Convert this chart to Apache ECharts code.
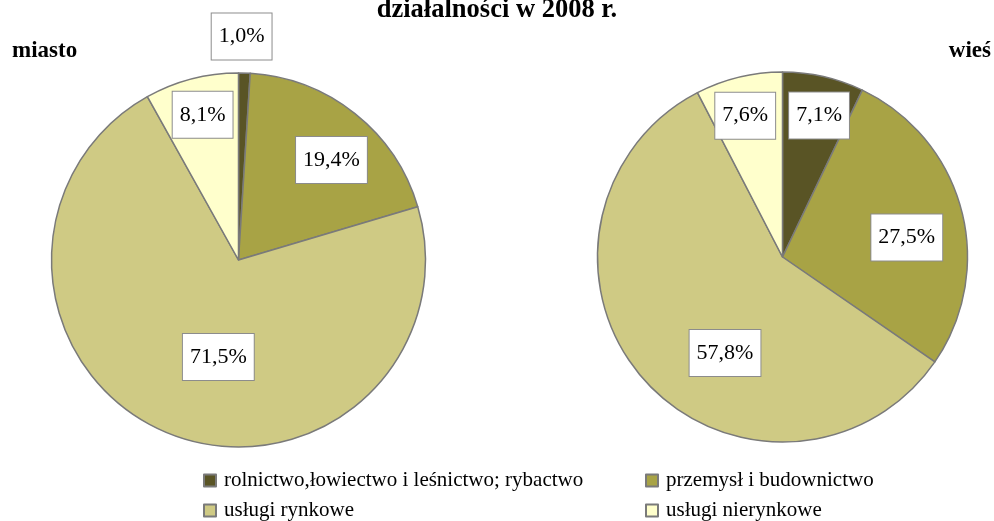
<!DOCTYPE html>
<html>
<head>
<meta charset="utf-8">
<script src="https://cdn.jsdelivr.net/npm/echarts@6/dist/echarts.min.js"></script>
<style>
  html, body { margin: 0; padding: 0; background: #fff; }
  #chart { width: 994px; height: 521px; }
</style>
</head>
<body>
<div id="chart"></div>
<script>
// dane
const categories = [
  'rolnictwo,łowiectwo i leśnictwo; rybactwo',
  'przemysł i budownictwo',
  'usługi rynkowe',
  'usługi nierynkowe'
];
const miastoValues = [1.0, 19.4, 71.5, 8.1];
const wiesValues = [7.1, 27.5, 57.8, 7.6];
const titleText = 'działalności w 2008 r.';
const pieNames = ['miasto', 'wieś'];

const colors = ['#595425', '#a8a345', '#cfca84', '#ffffcc'];
const serif = 'Liberation Serif';

// położenie etykiet (ułamek promienia, obrót w stopniach)
const miastoLabelRatio = [1.195, 0.73, 0.53, 0.80];
const miastoLabelTurn = [-1, 4.4, -10.4, 0.7];
const wiesLabelRatio = [0.79, 0.68, 0.605, 0.79];
const wiesLabelTurn = [1.7, 6, -17.7, -1.1];

const fmt = v => v.toFixed(1).replace('.', ',') + '%';

// etykiety ustawiane promieniowo od środka koła
function placeLabels(values, cx, cy, r, ratio, turn) {
  const total = values.reduce((a, b) => a + b, 0);
  return function (p) {
    let before = 0;
    for (let i = 0; i < p.dataIndex; i++) before += values[i];
    const deg = (before + values[p.dataIndex] / 2) / total * 360 + turn[p.dataIndex];
    const a = deg * Math.PI / 180;
    const d = r * ratio[p.dataIndex];
    return {
      x: cx + d * Math.sin(a),
      y: cy - d * Math.cos(a),
      align: 'center',
      verticalAlign: 'middle'
    };
  };
}

function pieSeries(name, values, cx, cy, r, ratio, turn) {
  return {
    name: name,
    type: 'pie',
    center: [cx, cy],
    radius: [0, r],
    startAngle: 90,
    clockwise: true,
    animation: false,
    avoidLabelOverlap: false,
    itemStyle: { borderColor: '#7a7a7a', borderWidth: 1.5 },
    emphasis: { disabled: true },
    label: {
      show: true,
      position: 'inside',
      formatter: p => fmt(p.value),
      fontFamily: serif,
      fontSize: 22,
      lineHeight: 22,
      color: '#000',
      backgroundColor: '#fff',
      borderColor: '#8c8c8c',
      borderWidth: 1,
      padding: [12, 7]
    },
    labelLine: { show: false },
    labelLayout: placeLabels(values, cx, cy, r, ratio, turn),
    data: categories.map((c, i) => ({ name: c, value: values[i] }))
  };
}

const chart = echarts.init(document.getElementById('chart'), null, { renderer: 'canvas' });

const legendBase = {
  orient: 'vertical',
  top: 470,
  height: 80,
  padding: 0,
  icon: 'rect',
  itemWidth: 12,
  itemHeight: 12,
  itemGap: 9,
  selectedMode: false,
  textStyle: { fontFamily: serif, fontSize: 21, color: '#000', padding: [0, 0, 0, 3] }
};

chart.setOption({
  backgroundColor: '#fff',
  color: colors,
  title: [
    {
      text: titleText, left: 'center', top: -3, padding: 0,
      textStyle: { fontFamily: serif, fontWeight: 'bold', fontSize: 26.5, color: '#000' }
    },
    {
      text: pieNames[0], left: 12, top: 40, padding: 0,
      textStyle: { fontFamily: serif, fontWeight: 'bold', fontSize: 23, color: '#000' }
    },
    {
      text: pieNames[1], right: 3, top: 40, padding: 0,
      textStyle: { fontFamily: serif, fontWeight: 'bold', fontSize: 23, color: '#000' }
    }
  ],
  legend: [
    Object.assign({}, legendBase, { left: 203, data: [categories[0], categories[2]] }),
    Object.assign({}, legendBase, { left: 645, data: [categories[1], categories[3]] })
  ],
  series: [
    pieSeries(pieNames[0], miastoValues, 238.5, 260, 187, miastoLabelRatio, miastoLabelTurn),
    pieSeries(pieNames[1], wiesValues, 782.5, 257, 185, wiesLabelRatio, wiesLabelTurn)
  ]
});
</script>
</body>
</html>
